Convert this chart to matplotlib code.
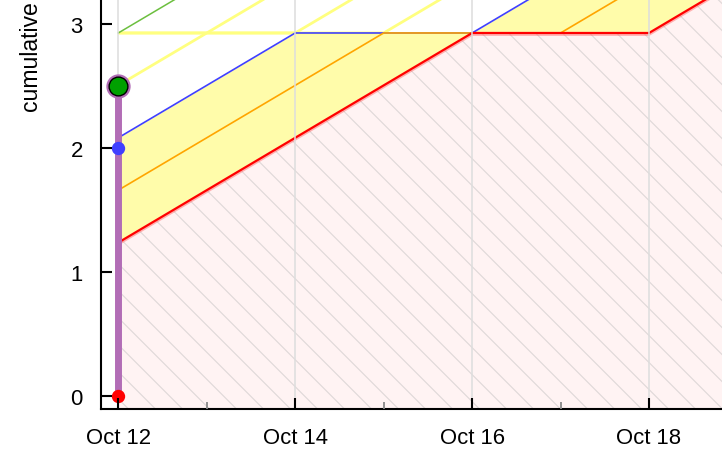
import numpy as np
import matplotlib
matplotlib.use("Agg")
import matplotlib.pyplot as plt
import matplotlib.dates as mdates
import matplotlib.patheffects as pe
from matplotlib.collections import LineCollection
from datetime import datetime

# ---------------- data ----------------
road_dates = ["2024-10-12", "2024-10-16", "2024-10-18", "2024-10-26"]
road_values = [1.24, 2.93, 2.93, 6.31]

# guideline lanes: road shifted left by N days
lane_red = 0
lane_orange = 1
lane_blue = 2
lanes_yellow = [3, 4, 5]
lane_green = 6

data_dates = ["2024-10-12", "2024-10-12", "2024-10-12"]
data_values = [0.0, 2.0, 2.5]
data_colors = ["#ff0000", "#4040ff", "#00a000"]

x_tick_dates = ["2024-10-12", "2024-10-14", "2024-10-16", "2024-10-18"]
x_tick_labels = ["Oct 12", "Oct 14", "Oct 16", "Oct 18"]
x_minor_dates = ["2024-10-13", "2024-10-15", "2024-10-17"]
y_ticks = [0, 1, 2, 3]
y_tick_labels = ["0", "1", "2", "3"]
y_label = "cumulative total"

# ---------------- setup ----------------
plt.rcParams["font.family"] = ["Liberation Sans", "DejaVu Sans"]

def dnum(s):
    return mdates.date2num(datetime.strptime(s, "%Y-%m-%d"))

rx = np.array([dnum(d) for d in road_dates])
ry = np.array(road_values, dtype=float)
dx = np.array([dnum(d) for d in data_dates])
x_start = rx[0]

W_PX, H_PX = 722, 464
fig = plt.figure(figsize=(W_PX / 100, H_PX / 100), dpi=100)
ax_l, ax_b = 101, 54.5
ax = fig.add_axes([ax_l / W_PX, ax_b / H_PX, (W_PX - ax_l) / W_PX, (H_PX - ax_b) / H_PX])

xlim = (x_start - 0.1956, x_start + 6.825)
ylim = (-0.098, 3.204)
ax.set_xlim(*xlim)
ax.set_ylim(*ylim)


def lane(d):
    pts = [x_start, xlim[1]] + [r - d for r in rx if x_start < r - d < xlim[1]]
    xs = np.array(sorted(set(pts)))
    return xs, np.interp(xs + d, rx, ry)

# pink zone below the red line
xs0, ys0 = lane(lane_red)
pink = ax.fill_between(xs0, ylim[0] - 1, ys0, color="#fff3f3", lw=0, zorder=1)

# hatch lines (45 deg), clipped to pink zone
aw = W_PX - ax_l
ah = H_PX - ax_b
segs = []
for c in np.arange(-ah, aw + ah, 27.0):
    segs.append([(c / aw, 1.0), ((c + ah) / aw, 0.0)])
lc = LineCollection(segs, colors="#e0d9d9", linewidths=0.85, transform=ax.transAxes, zorder=1.1)
ax.add_collection(lc)
lc.set_clip_path(pink.get_paths()[0], ax.transData)

# yellow zone between red and blue lanes
xsb = np.array(sorted(set(list(xs0) + list(lane(lane_blue)[0]))))
ax.fill_between(xsb, np.interp(xsb + lane_red, rx, ry), np.interp(xsb + lane_blue, rx, ry),
                color="#fffcaa", lw=0, zorder=1.2)

# guideline lanes
for d in lanes_yellow:
    xs, ys = lane(d)
    ax.plot(xs, ys, color="#ffff80", lw=2.0, zorder=2.0, solid_capstyle="butt")
xs, ys = lane(lane_green)
ax.plot(xs, ys, color="#6cbf3f", lw=1.1, zorder=2.1)
xs, ys = lane(lane_blue)
ax.plot(xs, ys, color="#4040ff", lw=1.2, zorder=2.2)
xs, ys = lane(lane_orange)
ax.plot(xs, ys, color="#ffa500", lw=1.2, zorder=2.3)
ax.plot(xs0, ys0, color="#ff0000", lw=1.6, zorder=2.4,
        path_effects=[pe.SimpleLineShadow(offset=(0, -1.3), shadow_color="#ff6060", alpha=0.45),
                      pe.Normal()])

# vertical grid lines at major ticks
xt = [dnum(d) for d in x_tick_dates]
for v in xt:
    ax.axvline(v, color="#dddddd", lw=1.1, zorder=2.6)

# datapoints
purple = "#b26db6"
ax.plot(dx, data_values, color=purple, lw=5, zorder=3, solid_capstyle="butt")
ax.plot(dx[-1], data_values[-1], "o", ms=17.5, color=purple, mew=0, zorder=3.1)
for x, v, c in zip(dx[:-1], data_values[:-1], data_colors[:-1]):
    ax.plot(x, v, "o", ms=9.6, color=c, mew=0, zorder=3.2)
ax.plot(dx[-1], data_values[-1], "o", ms=13.5, color=data_colors[-1], mec="black", mew=1.0, zorder=3.3)

# axes styling
for s in ["top", "right"]:
    ax.spines[s].set_visible(False)
for s in ["left", "bottom"]:
    ax.spines[s].set_linewidth(1.5)
    ax.spines[s].set_zorder(4)
ax.xaxis.set_zorder(4)
ax.yaxis.set_zorder(4)

ax.set_xticks(xt)
ax.set_xticklabels(x_tick_labels)
ax.set_xticks([dnum(d) for d in x_minor_dates], minor=True)
ax.set_yticks(y_ticks)
ax.set_yticklabels(y_tick_labels)
ax.tick_params(axis="both", which="major", direction="in", length=8, width=1.5,
               color="black", labelsize=15.9, pad=13)
ax.tick_params(axis="x", which="minor", direction="in", length=5, width=1.3, color="#888888")
ax.tick_params(axis="y", which="minor", length=0)

fig.text(32 / W_PX, 1 - 112 / H_PX, y_label, rotation=90, ha="center", va="bottom", fontsize=16.6)

fig.savefig("out.png", dpi=100)
